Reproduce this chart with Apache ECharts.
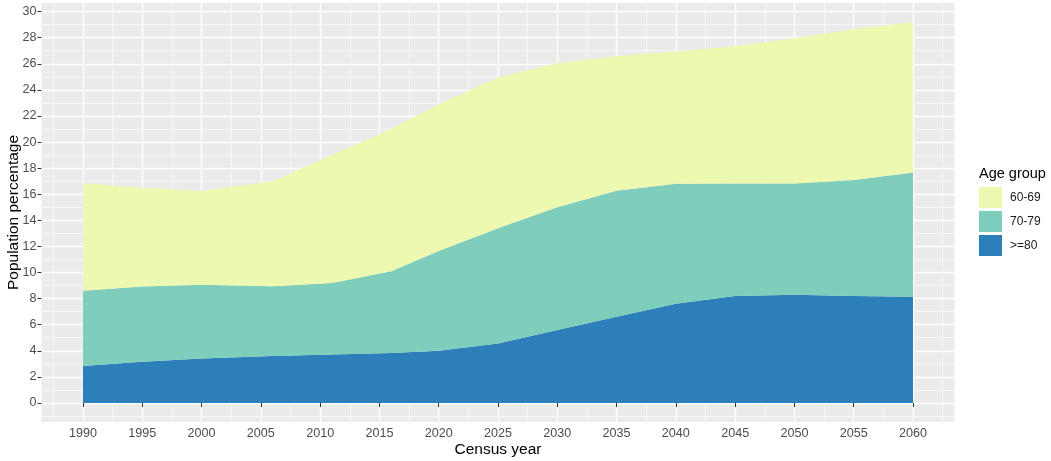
<!DOCTYPE html>
<html>
<head>
<meta charset="utf-8">
<script src="https://cdn.jsdelivr.net/npm/echarts@6/dist/echarts.min.js"></script>
<style>
html,body{margin:0;padding:0;background:#fff;}
#chart{width:1051px;height:461px;}
</style>
</head>
<body>
<div id="chart"></div>
<script>
// ---- data ----
const years = [1990, 1995, 2000, 2006, 2011, 2016, 2020, 2025, 2030, 2035, 2040, 2045, 2050, 2055, 2060];
const age80plus = [2.84, 3.15, 3.40, 3.60, 3.72, 3.82, 4.00, 4.55, 5.60, 6.60, 7.60, 8.20, 8.30, 8.20, 8.15];
const age70_79  = [5.76, 5.78, 5.66, 5.35, 5.48, 6.28, 7.65, 8.85, 9.40, 9.67, 9.20, 8.62, 8.53, 8.90, 9.52];
const age60_69  = [8.25, 7.57, 7.19, 8.05, 9.80, 10.90, 11.25, 11.55, 11.05, 10.33, 10.15, 10.53, 11.12, 11.55, 11.53];
const seriesNames = ['60-69', '70-79', '>=80'];
const xMajorTicks = [1990, 1995, 2000, 2005, 2010, 2015, 2020, 2025, 2030, 2035, 2040, 2045, 2050, 2055, 2060];
const xMinorTicks = [1987.5, 1992.5, 1997.5, 2002.5, 2007.5, 2012.5, 2017.5, 2022.5, 2027.5, 2032.5, 2037.5, 2042.5, 2047.5, 2052.5, 2057.5, 2062.5];
const yMajorTicks = [0, 2, 4, 6, 8, 10, 12, 14, 16, 18, 20, 22, 24, 26, 28, 30];
const yMinorTicks = [-1, 1, 3, 5, 7, 9, 11, 13, 15, 17, 19, 21, 23, 25, 27, 29];

const colors = {'60-69': '#EDF8B1', '70-79': '#7FCDBB', '>=80': '#2C7FB8'};
const font = 'Liberation Sans, Arial, Helvetica, sans-serif';
const xMin = 1986.5, xMax = 2063.5, yMin = -1.46, yMax = 30.66;

// value first, year second, so that the stack is applied to the value column
function pairs(vals) { return years.map((y, i) => [vals[i], y]); }
function area(name, vals) {
  return {
    name: name, type: 'line', stack: 'total', xAxisIndex: 0, yAxisIndex: 0,
    data: pairs(vals), encode: {x: 1, y: 0},
    symbol: 'none', showSymbol: false, smooth: false,
    color: colors[name],
    itemStyle: {color: colors[name]},
    lineStyle: {width: 0, color: colors[name]},
    areaStyle: {color: colors[name], opacity: 1},
    emphasis: {disabled: true}, animation: false
  };
}

const chart = echarts.init(document.getElementById('chart'), null, {renderer: 'canvas'});
chart.setOption({
  animation: false,
  backgroundColor: '#ffffff',
  title: [{
    text: 'Age group', left: 979, top: 166, padding: 0,
    textStyle: {fontFamily: font, fontSize: 14.5, fontWeight: 'normal', color: '#000'}
  }],
  legend: {
    data: seriesNames, orient: 'vertical', left: 979, top: 187, padding: 0,
    icon: 'rect', itemWidth: 23, itemHeight: 21, itemGap: 3,
    textStyle: {fontFamily: font, fontSize: 12, color: '#1a1a1a', padding: [0, 0, 0, 3]},
    selectedMode: false
  },
  grid: {
    left: 41.5, right: 1051 - 954.5, top: 3, bottom: 461 - 422,
    show: true, backgroundColor: '#EBEBEB', borderWidth: 0,
    containLabel: false, outerBoundsMode: 'none'
  },
  xAxis: [{
    type: 'value', min: xMin, max: xMax,
    name: 'Census year', nameLocation: 'middle', nameGap: 20, nameMoveOverlap: false,
    nameTextStyle: {fontFamily: font, fontSize: 15.5, color: '#000'},
    axisLine: {show: false},
    axisTick: {show: true, length: 4, lineStyle: {color: '#333'}, customValues: xMajorTicks},
    axisLabel: {customValues: xMajorTicks, fontFamily: font, fontSize: 12.6, color: '#4D4D4D', margin: 5,
      formatter: v => String(v)},
    splitLine: {show: true, lineStyle: {color: '#FFFFFF', width: 1.3}}
  }, {
    type: 'value', min: xMin, max: xMax, position: 'bottom',
    axisLine: {show: false},
    axisTick: {show: false, customValues: xMinorTicks},
    axisLabel: {show: false, customValues: xMinorTicks},
    splitLine: {show: true, lineStyle: {color: '#FFFFFF', width: 0.6}}
  }],
  yAxis: [{
    type: 'value', min: yMin, max: yMax,
    name: 'Population percentage', nameLocation: 'middle', nameGap: 20, nameMoveOverlap: false,
    nameTextStyle: {fontFamily: font, fontSize: 15.5, color: '#000'},
    axisLine: {show: false},
    axisTick: {show: true, length: 4, lineStyle: {color: '#333'}, customValues: yMajorTicks},
    axisLabel: {customValues: yMajorTicks, fontFamily: font, fontSize: 12.6, color: '#4D4D4D', margin: 5,
      formatter: v => String(v)},
    splitLine: {show: true, lineStyle: {color: '#FFFFFF', width: 1.3}}
  }, {
    type: 'value', min: yMin, max: yMax, position: 'left',
    axisLine: {show: false},
    axisTick: {show: false, customValues: yMinorTicks},
    axisLabel: {show: false, customValues: yMinorTicks},
    splitLine: {show: true, lineStyle: {color: '#FFFFFF', width: 0.6}}
  }],
  series: [
    area('>=80', age80plus),
    area('70-79', age70_79),
    area('60-69', age60_69)
  ]
});
</script>
</body>
</html>
